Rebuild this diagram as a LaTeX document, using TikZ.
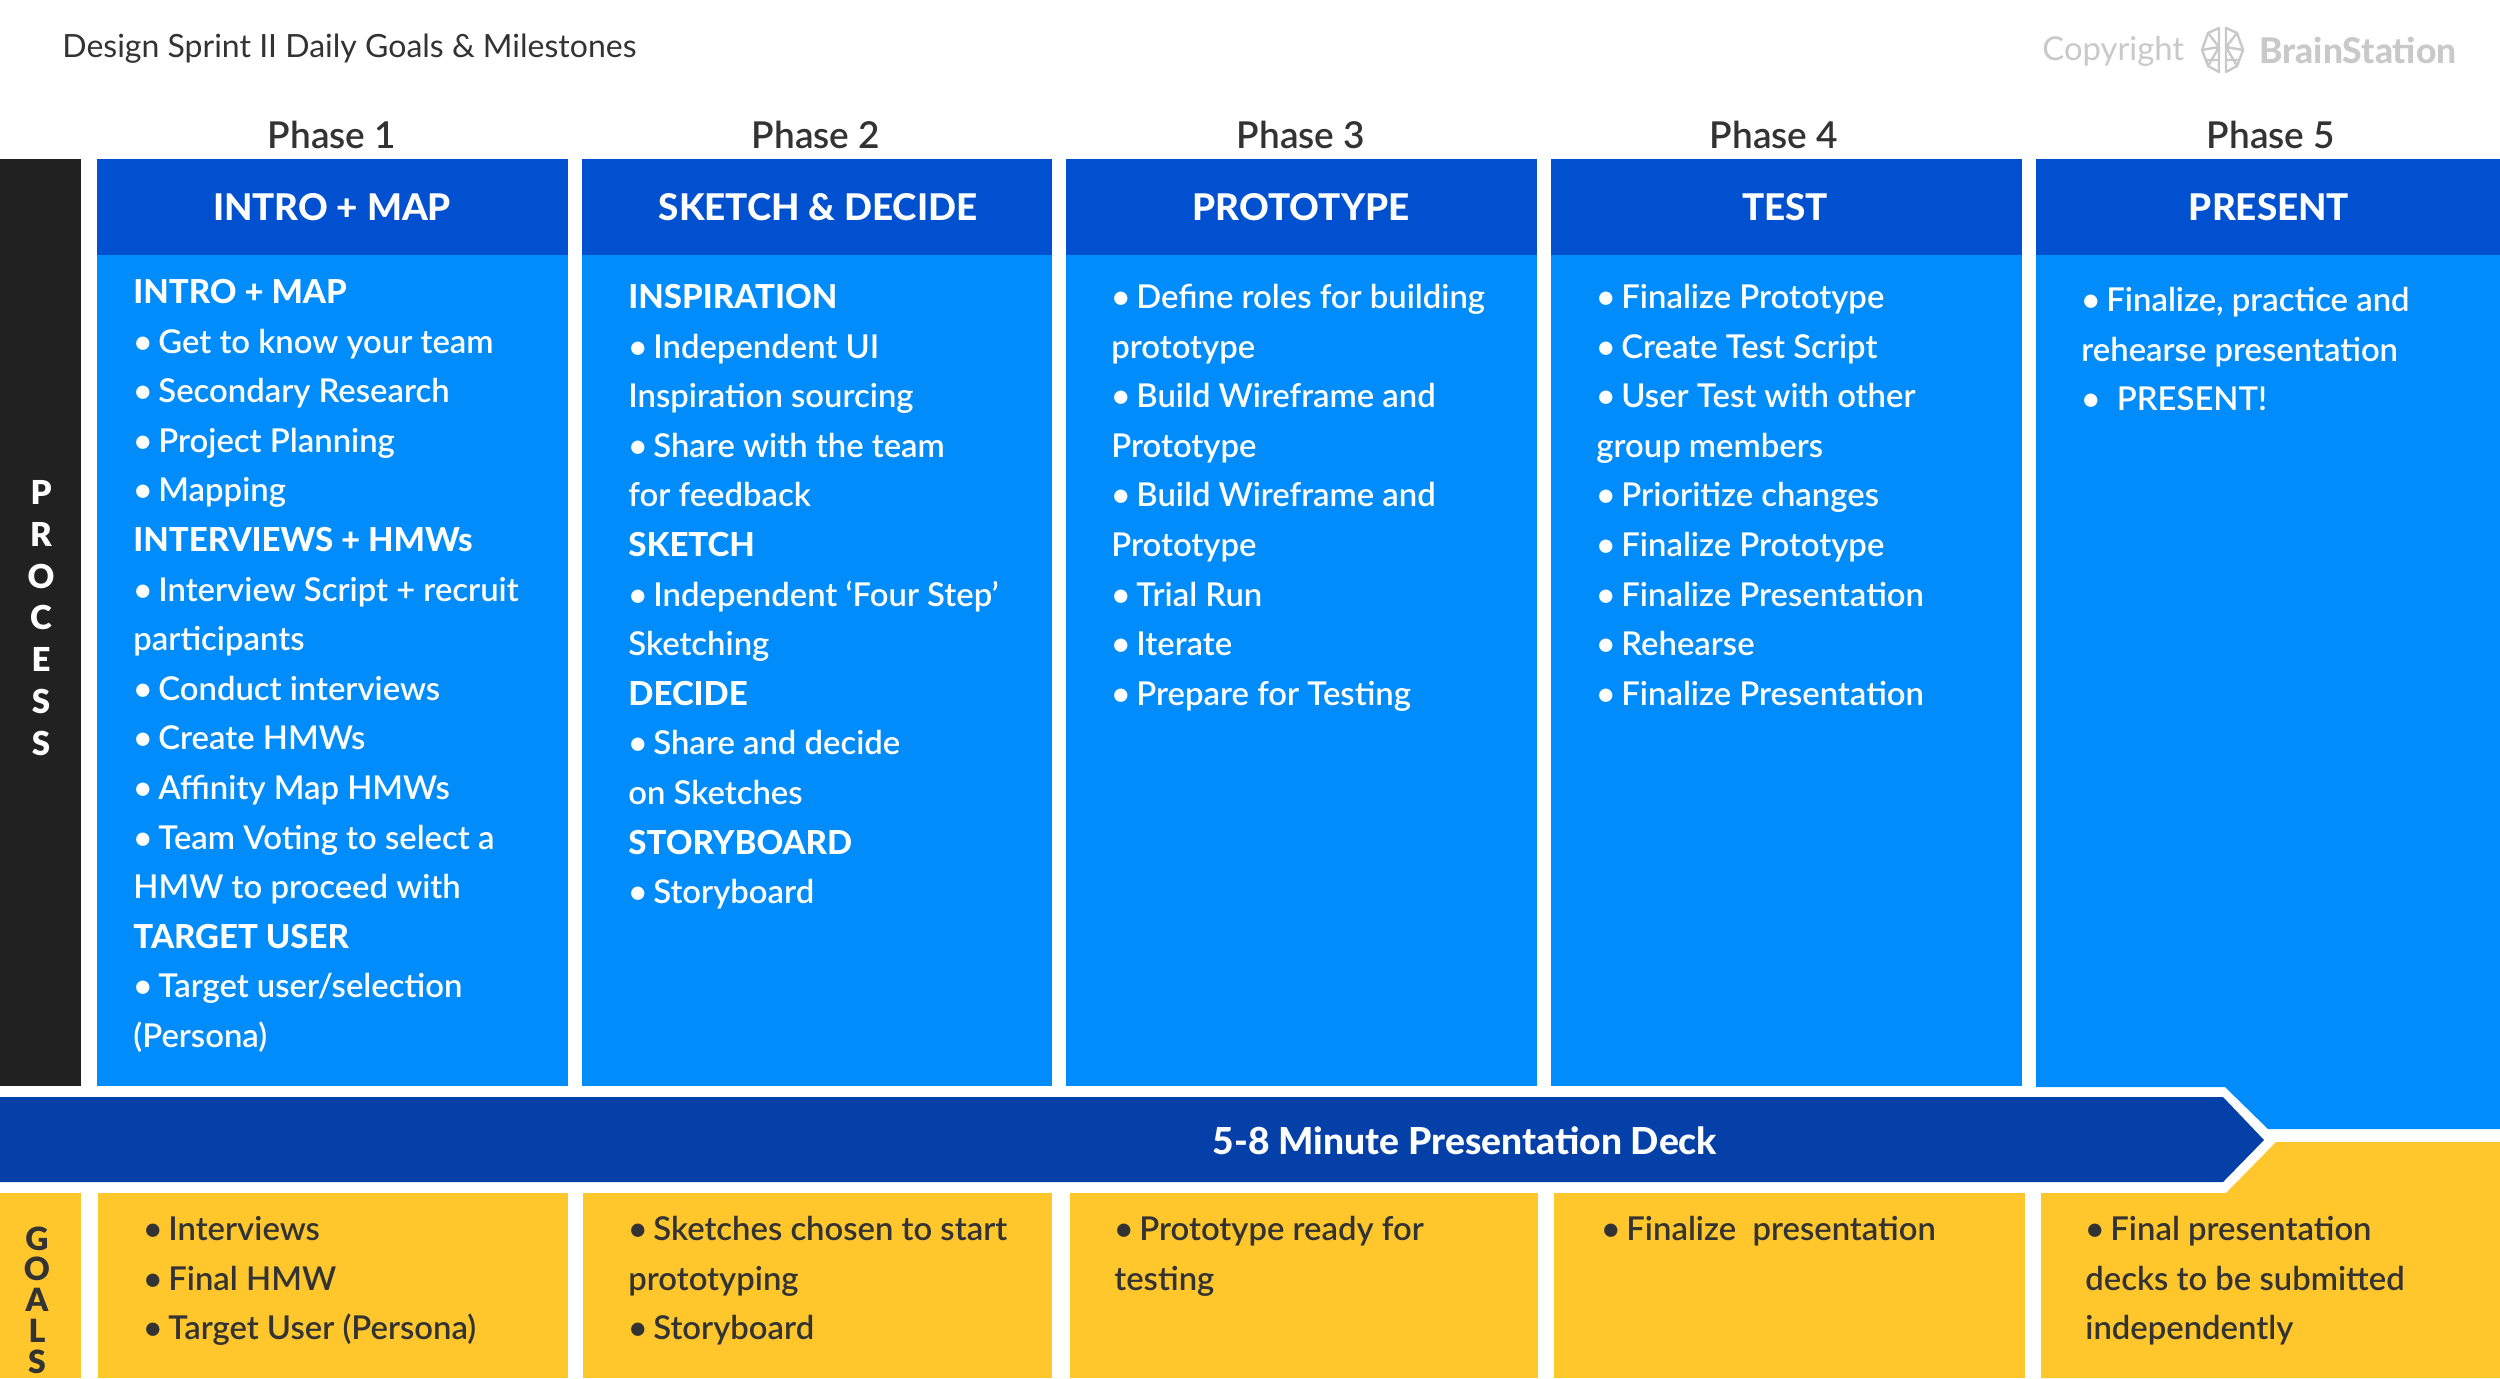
\documentclass[tikz,border=0pt]{standalone}
\usepackage{fontspec}
\setmainfont{Lato}
\newfontfamily\bodyf{Lato Semibold}
\newfontfamily\headf{Lato Heavy}
\newfontfamily\blackf{Lato Black}
\definecolor{hdr}{HTML}{0050D0}
\definecolor{bdy}{HTML}{008CFA}
\definecolor{arw}{HTML}{0440A8}
\definecolor{gld}{HTML}{FFC72C}
\definecolor{blk}{HTML}{212121}
\definecolor{ink}{HTML}{333333}
\definecolor{lgo}{HTML}{C9C9C9}
\newcommand\fl{\rule{0pt}{16pt}}
\newcommand\hb[1]{{\fontsize{16.5}{24.8}\selectfont\headf #1}}
\newcommand\bl{•\hspace{3pt}}
\tikzset{
 blockt/.style={anchor=north west,inner sep=0pt,align=left,text=white,font=\fontsize{16.4}{24.8}\selectfont\bodyf},
 goalt/.style={blockt,text=ink},
 headt/.style={inner sep=0pt,text=white,font=\fontsize{18.4}{22}\selectfont\headf},
 phaset/.style={inner sep=0pt,text=ink,font=\fontsize{18.5}{22}\selectfont\bodyf},
 vlet/.style={inner sep=0pt,align=center,font=\fontsize{16.5}{20.85}\selectfont\blackf},
}
\begin{document}
\begin{tikzpicture}[x=0.5pt,y=-0.5pt]
\useasboundingbox (0,0) rectangle (2500,1378);
\fill[white] (0,0) rectangle (2500,1378);
% process column
\fill[blk] (0,159) rectangle (81,1086);
\fill[gld] (0,1193) rectangle (81,1378);
% phase columns
\foreach \a/\b in {97/568,582/1052,1066/1537,1551/2022}{
 \fill[bdy] (\a,255) rectangle (\b,1086);
 \fill[hdr] (\a,159) rectangle (\b,255);
}
\fill[bdy] (2036,255) -- (2500,255) -- (2500,1129) -- (2268,1129) -- (2225,1087) -- (2036,1087) -- cycle;
\fill[hdr] (2036,159) rectangle (2500,255);
% goal columns
\foreach \a/\b in {98/568,583/1052,1070/1538,1554/2025}{
 \fill[gld] (\a,1193) rectangle (\b,1378);
}
\fill[gld] (2041,1193) -- (2226,1193) -- (2276,1142) -- (2500,1142) -- (2500,1378) -- (2041,1378) -- cycle;
% arrow
\fill[arw] (0,1097) -- (2223,1097) -- (2264,1140) -- (2223,1182) -- (0,1182) -- cycle;
\node[headt,font=\fontsize{18.6}{22}\selectfont\headf] (deck) at (1465,1141) {5-8 Minute Presentation Deck};
% title + logo
\node[anchor=west,inner sep=0pt,text=ink,font=\fontsize{16}{20}\selectfont] (title) at (62,49) {Design Sprint II Daily Goals \& Milestones};
\node[anchor=west,inner sep=0pt,text=lgo,font=\fontsize{16.4}{20}\selectfont] (copy) at (2042,51) {Copyright};
\node[anchor=west,inner sep=0pt,text=lgo,font=\fontsize{17.7}{20}\selectfont\headf] (brand) at (2259,50) {BrainStation};
\begin{scope}[draw=lgo,line width=1.2pt,line join=round]
\draw (2219,28) -- (2208,33) -- (2202,50) -- (2208,66) -- (2219,72) -- cycle;
\draw (2226,28) -- (2237,33) -- (2243,50) -- (2237,66) -- (2226,72) -- cycle;
\draw (2208,33) -- (2219,47) -- (2202,50) (2219,47) -- (2208,66) (2219,60) -- (2206,60);
\draw (2237,33) -- (2226,47) -- (2243,50) (2226,47) -- (2237,66) (2226,60) -- (2239,60);
\end{scope}
% phases
\node[phaset] (p1) at (332,135) {Phase 1};
\node[phaset] (p2) at (816,135) {Phase 2};
\node[phaset] (p3) at (1301,135) {Phase 3};
\node[phaset] (p4) at (1774,135) {Phase 4};
\node[phaset] (p5) at (2271,135) {Phase 5};
% headers
\node[headt] (h1) at (332,207) {INTRO + MAP};
\node[headt] (h2) at (818,207) {SKETCH \& DECIDE};
\node[headt] (h3) at (1301,207) {PROTOTYPE};
\node[headt] (h4) at (1785,207) {TEST};
\node[headt] (h5) at (2269,207) {PRESENT};
% side labels
\node[vlet,text=white] (process) at (41,618) {P\\R\\O\\C\\E\\S\\S};
\node[vlet,text=ink,font=\fontsize{16}{15.35}\selectfont\blackf] (goals) at (37,1300) {G\\O\\A\\L\\S};
% bodies
\node[blockt] (b1) at (133,271) {\fl\hb{INTRO + MAP}\\
 \bl Get to know your team\\
 \bl Secondary Research\\
 \bl Project Planning\\
 \bl Mapping\\
 \hb{INTERVIEWS + HMWs}\\
 \bl Interview Script + recruit\\
 participants\\
 \bl Conduct interviews\\
 \bl Create HMWs\\
 \bl Affinity Map HMWs\\
 \bl Team Voting to select a\\
 HMW to proceed with\\
 \hb{TARGET USER}\\
 \bl Target user/selection\\
 (Persona)};
\node[blockt] (b2) at (628,276) {\fl\hb{INSPIRATION}\\
 \bl Independent UI\\
 Inspiration sourcing\\
 \bl Share with the team\\
 for feedback\\
 \hb{SKETCH}\\
 \bl Independent ‘Four Step’\\
 Sketching\\
 \hb{DECIDE}\\
 \bl Share and decide\\
 on Sketches\\
 \hb{STORYBOARD}\\
 \bl Storyboard};
\node[blockt] (b3) at (1111,276) {\fl\bl Define roles for building\\
 prototype\\
 \bl Build Wireframe and\\
 Prototype\\
 \bl Build Wireframe and\\
 Prototype\\
 \bl Trial Run\\
 \bl Iterate\\
 \bl Prepare for Testing};
\node[blockt] (b4) at (1596,276) {\fl\bl Finalize Prototype\\
 \bl Create Test Script\\
 \bl User Test with other\\
 group members\\
 \bl Prioritize changes\\
 \bl Finalize Prototype\\
 \bl Finalize Presentation\\
 \bl Rehearse\\
 \bl Finalize Presentation};
\node[blockt] (b5) at (2081,279) {\fl\bl Finalize, practice and\\
 rehearse presentation\\
 •\hspace{0.5em}PRESENT!};
% goals
\node[goalt] (g1) at (143,1208) {\fl\bl Interviews\\
 \bl Final HMW\\
 \bl Target User (Persona)};
\node[goalt] (g2) at (628,1208) {\fl\bl Sketches chosen to start\\
 prototyping\\
 \bl Storyboard};
\node[goalt] (g3) at (1114,1208) {\fl\bl Prototype ready for\\
 testing};
\node[goalt] (g4) at (1601,1208) {\fl\bl Finalize\hspace{0.25em} presentation};
\node[goalt] (g5) at (2085,1208) {\fl\bl Final presentation\\
 decks to be submitted\\
 independently};
\end{tikzpicture}
\end{document}
